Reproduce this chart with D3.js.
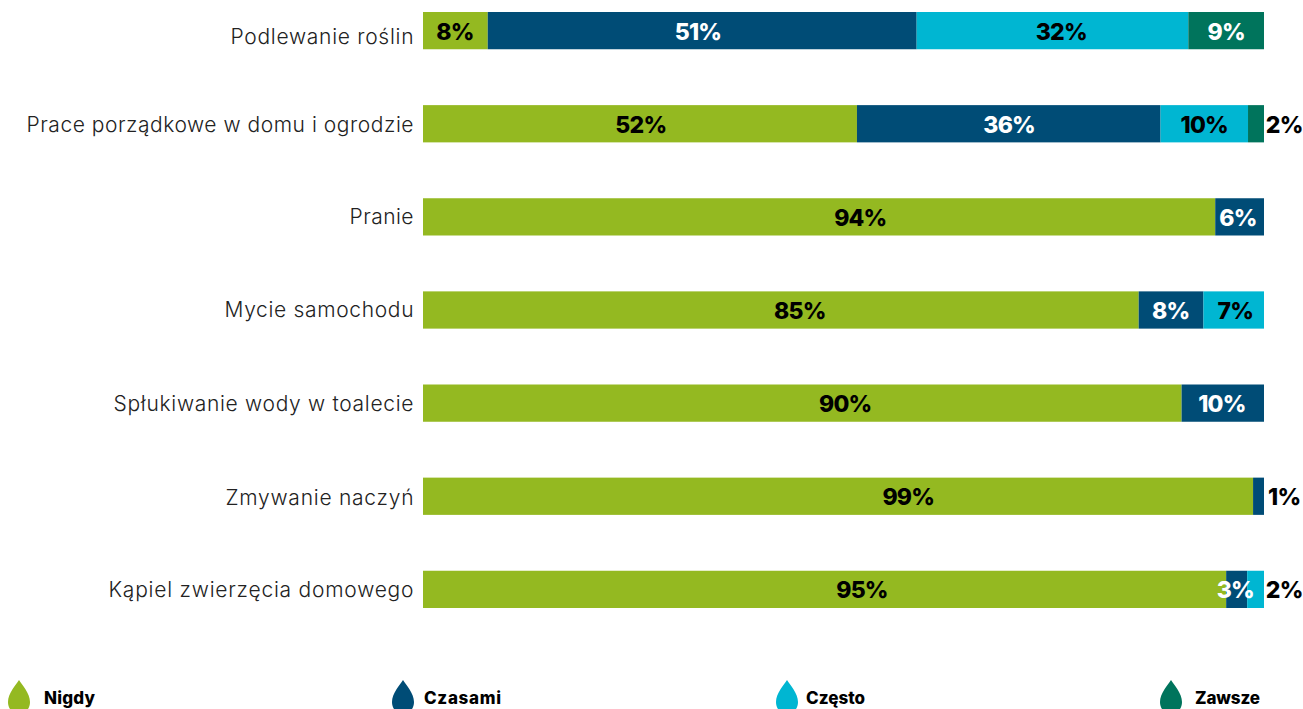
<!DOCTYPE html>
<html><head><meta charset="utf-8">
<script src="https://cdn.jsdelivr.net/npm/d3@7"></script>
<style>html,body{margin:0;padding:0;background:#fff}svg{display:block}text{font-family:Inter,"Noto Sans",sans-serif}</style>
</head><body><svg id="c" width="1303" height="709"></svg>
<script>
const categories=["Podlewanie roślin","Prace porządkowe w domu i ogrodzie","Pranie","Mycie samochodu","Spłukiwanie wody w toalecie","Zmywanie naczyń","Kąpiel zwierzęcia domowego"];
const seriesNames=["Nigdy","Czasami","Często","Zawsze"];
const colors=["#94b921","#004c76","#00b6d2","#00745c"];
const nigdy=[7.7,51.6,94.2,85.1,90.2,98.7,95.5];
const czasami=[51,36.1,5.8,7.7,9.8,1.3,2.5];
const czesto=[32.3,10.4,0,7.2,0,0,2.0];
const zawsze=[9,1.9,0,0,0,0,0];
const labNigdy=["8%","52%","94%","85%","90%","99%","95%"];
const labCzasami=["51%","36%","6%","8%","10%","1%","3%"];
const labCzesto=["32%","10%","","7%","","","2%"];
const labZawsze=["9%","2%","","","","",""];
// where each label sits along the percent axis (the reference does not centre them)
const atNigdy=[3.8,25.9,52,44.8,50.2,57.7,52.2];
const atCzasami=[32.7,69.7,96.9,88.9,95,102.4,96.6];
const atCzesto=[75.9,92.9,0,96.6,0,0,102.4];
const atZawsze=[95.5,102.4,0,0,0,0,0];
const vals=[nigdy,czasami,czesto,zawsze], labs=[labNigdy,labCzasami,labCzesto,labZawsze], ats=[atNigdy,atCzasami,atCzesto,atZawsze];
const textCol=["#000","#fff","#000","#fff"];
const catShift=[6,1,0,0,1,2,1];
const catWidth=[183,387,64,189,300,188,305];
const legWidth=[51,77,59,65];

const svg=d3.select("#c");
const x=d3.scaleLinear().domain([0,100]).range([423,1264]);
const y=d3.scaleBand().domain(categories).range([12,608]).paddingInner(0.6).paddingOuter(0);
const stack=d3.stack().keys([0,1,2,3]).value((d,k)=>vals[k][d])(categories.map((c,i)=>i));
stack.forEach((s,k)=>{
  svg.append("g").selectAll("rect").data(s).join("rect")
    .attr("x",d=>x(d[0])).attr("width",d=>x(d[1])-x(d[0]))
    .attr("y",(d,i)=>y(categories[i])).attr("height",y.bandwidth()).attr("fill",colors[k]);
});
svg.append("g").selectAll("text").data(categories).join("text")
  .attr("x",413.5).attr("y",(d,i)=>y(d)+y.bandwidth()/2+7+catShift[i]).attr("text-anchor","end")
  .attr("textLength",(d,i)=>catWidth[i]).attr("lengthAdjust","spacing")
  .attr("font-size",21).attr("fill","#222").attr("font-weight",300).text(d=>d);
stack.forEach((s,k)=>{
  svg.append("g").selectAll("text").data(s).join("text")
    .filter((d,i)=>labs[k][i]!=="")
    .attr("text-anchor","middle").attr("font-size",23).attr("font-weight",800).attr("letter-spacing",-0.8)
    .each(function(d){
      const i=d.data, outside=ats[k][i]>100;
      d3.select(this).attr("x",x(ats[k][i])).attr("y",y(categories[i])+y.bandwidth()/2+9)
        .attr("fill",outside?"#000":textCol[k]).text(labs[k][i]);
    });
});
const lx=[19,403,787,1171], tx=[44,424,806,1195];
seriesNames.forEach((n,k)=>{
  svg.append("path").attr("transform",`translate(${lx[k]},680)`).attr("fill",colors[k])
    .attr("d","M0 0C3 5 11 13 11 22C11 29 6 34 0 34C-6 34 -11 29 -11 22C-11 13 -3 5 0 0Z");
  svg.append("text").attr("x",tx[k]).attr("y",704).attr("font-size",17).attr("font-weight",800)
    .attr("textLength",legWidth[k]).attr("lengthAdjust","spacing").attr("fill","#000").text(n);
});
</script></body></html>
